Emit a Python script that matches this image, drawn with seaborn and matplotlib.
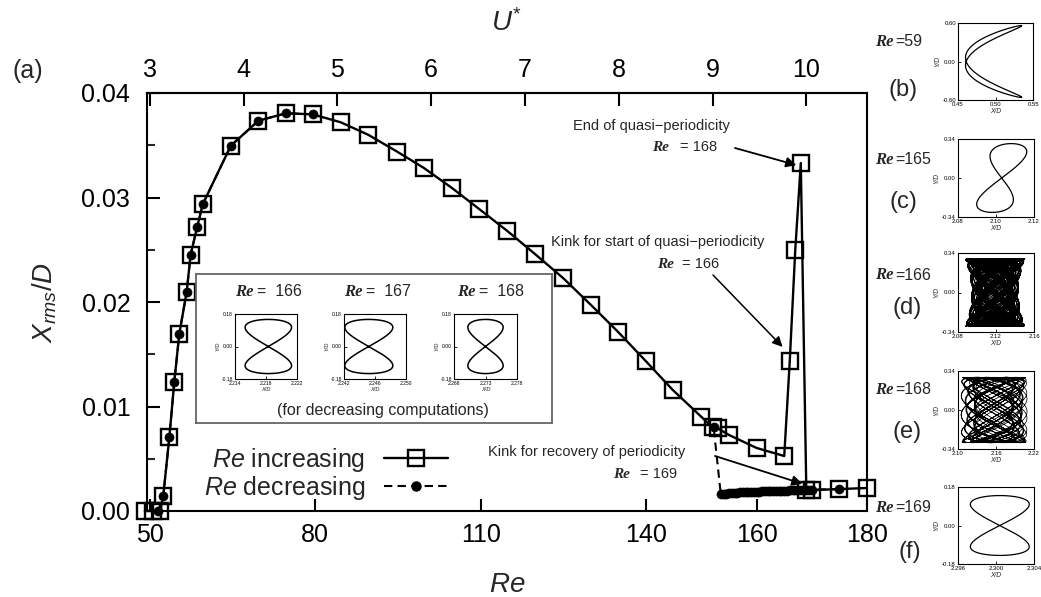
import numpy as np
import pandas as pd
import matplotlib
matplotlib.use("Agg")
import matplotlib.pyplot as plt
from matplotlib.lines import Line2D
from matplotlib.ticker import FormatStrFormatter, MultipleLocator
import seaborn as sns

# ---------------------------------------------------------------- data
# Re increasing sweep (hollow squares, solid line)
re_inc = [49.1, 50.6, 51.9, 52.45, 53.55, 54.45, 55.35, 56.7, 57.4, 58.6, 59.6,
          64.7, 69.7, 74.7, 79.5, 84.6, 89.6, 94.8, 99.7, 104.8, 109.7, 114.8,
          119.8, 124.9, 130.0, 134.9, 139.9, 144.8, 150.0, 152.0, 153.0, 155.0,
          160.0, 165.0, 166.0, 167.0, 168.0, 169.0, 170.0, 175.0, 180.0]
xrms_inc = [0.0, 0.0, 0.0, 0.00147, 0.00705, 0.01237, 0.01694, 0.0210, 0.0245, 0.0272, 0.02935,
            0.03496, 0.03735, 0.03806, 0.03796, 0.0372, 0.0360, 0.0344, 0.03282, 0.0309, 0.0289, 0.0268,
            0.0246, 0.0223, 0.0197, 0.01713, 0.01435, 0.01158, 0.0090, 0.0080, 0.0079, 0.00727,
            0.00603, 0.00526, 0.01435, 0.0250, 0.0333, 0.0020, 0.0020, 0.0021, 0.0022]

# Re decreasing sweep: upper run (175 -> 152) and lower run (80 -> 51.5)
re_dec_high = [175.0, 170.0, 169.5, 169.0, 168.5, 168.0, 167.5, 167.0, 166.5, 166.0, 165.5,
               165.0, 164.5, 164.0, 163.5, 163.0, 162.5, 162.0, 161.5, 161.0, 160.5,
               160.0, 159.5, 159.0, 158.5, 158.0, 157.5, 157.0, 156.5, 156.0, 155.5,
               155.0, 154.5, 154.0, 153.5, 152.2]
xrms_dec_high = [0.0021, 0.00205, 0.00204, 0.00203, 0.00202, 0.00201, 0.0020, 0.00199, 0.00198, 0.00197, 0.00196,
                 0.00195, 0.00194, 0.00193, 0.00192, 0.00191, 0.0019, 0.00189, 0.00188, 0.00187, 0.00186,
                 0.00185, 0.00184, 0.00183, 0.00182, 0.00181, 0.0018, 0.00179, 0.00177, 0.00175, 0.00173,
                 0.00170, 0.00167, 0.00163, 0.0016, 0.0080]
re_dec_low = [79.5, 74.7, 69.7, 64.7, 59.6, 58.6, 57.4, 56.7, 55.35, 54.45, 53.55, 52.45, 51.5]
xrms_dec_low = [0.03796, 0.03806, 0.03735, 0.03496, 0.02935, 0.0272, 0.0245, 0.0210,
                0.01694, 0.01237, 0.00705, 0.00147, 0.0]

re_ticks = [50, 80, 110, 140, 160, 180]
xrms_ticks = [0.0, 0.01, 0.02, 0.03, 0.04]
u_ticks = [3, 4, 5, 6, 7, 8, 9, 10]

# Orbit parameters (centre, amplitudes, slow drift rates) of the phase portraits
orbit_b = dict(xc=0.4975, ax=0.0375, ay=0.56, phase=0.22)
orbit_c = dict(xc=2.103, a2=0.0095, a1=0.005, ay=0.30)
orbit_f = dict(xc=2.3004, a2=0.0031, ay=0.14)
orbit_d = dict(xc=2.119, a2=0.019, waist=0.35, am=0.006, ay=0.29, wp=0.173, wm=0.0371, tmax=900)
orbit_e = dict(xc=2.157, a2=0.040, am=0.012, ay=0.285, wp=0.2113, wm=0.0417, tmax=170)
inset_re = ["166", "167", "168"]
inset_xc = [2.2183, 2.2452, 2.2730]
inset_ax = [0.0030, 0.0031, 0.0028]
inset_ay = [0.15, 0.15, 0.15]
inset_xticks = [[2.214, 2.218, 2.222], [2.242, 2.246, 2.250], [2.268, 2.273, 2.278]]

# ---------------------------------------------------------------- style
sns.set_theme(style="ticks")
plt.rcParams["font.family"] = ["Liberation Sans", "DejaVu Sans"]
plt.rcParams["mathtext.fontset"] = "custom"
plt.rcParams["mathtext.it"] = "Liberation Sans:italic"
plt.rcParams["mathtext.rm"] = "Liberation Sans"
plt.rcParams["axes.linewidth"] = 1.5

W, H = 1041, 597
fig = plt.figure(figsize=(W / 100, H / 100), dpi=100)


def rect(x0, y0, x1, y1):
    return [x0 / W, 1 - y1 / H, (x1 - x0) / W, (y1 - y0) / H]


def ftext(x, y, s, **kw):
    kw.setdefault("ha", "left")
    kw.setdefault("va", "center")
    return fig.text(x / W, 1 - y / H, s, **kw)


def re_tag(x, y, rest, size, gap):
    ftext(x, y, "Re", family="Liberation Serif", style="italic", weight="bold", fontsize=size)
    ftext(x + gap, y, rest, fontsize=size - 0.5)


# ---------------------------------------------------------------- main axes
ax = fig.add_axes(rect(147, 93, 867, 511))

inc = pd.DataFrame({"Re": re_inc, "Xrms": xrms_inc})
dec = pd.DataFrame({
    "Re": re_dec_high + re_dec_low,
    "Xrms": xrms_dec_high + xrms_dec_low,
    "run": ["high"] * len(re_dec_high) + ["low"] * len(re_dec_low),
})

sns.lineplot(data=inc, x="Re", y="Xrms", ax=ax, color="black", lw=1.7,
             marker="s", markersize=11, markerfacecolor="none",
             markeredgecolor="black", markeredgewidth=1.7,
             clip_on=False, zorder=3)
sns.lineplot(data=dec, x="Re", y="Xrms", units="run", estimator=None, sort=False,
             ax=ax, color="black", lw=1.5, ls=(0, (4, 2.5)),
             marker="o", markersize=6.5, markeredgecolor="black",
             markeredgewidth=0.5, clip_on=False, zorder=4)

ax.set_xlim(49.5, 180)
ax.set_ylim(0, 0.04)
ax.set_xticks(re_ticks)
ax.set_yticks(xrms_ticks)
ax.yaxis.set_minor_locator(MultipleLocator(0.005))
ax.yaxis.set_major_formatter(FormatStrFormatter("%.2f"))
ax.tick_params(axis="both", which="major", direction="in", length=9, width=1.5,
               labelsize=18, colors="black")
ax.tick_params(axis="y", which="major", pad=12)
ax.tick_params(axis="x", which="major", pad=9)
ax.tick_params(axis="y", which="minor", direction="in", length=6, width=1.5)
ax.tick_params(top=False, right=False)
ax.set_xlabel("$Re$", fontsize=20, labelpad=18)
ax.set_ylabel("$X_{rms}/D$", fontsize=20, labelpad=16)
for s in ax.spines.values():
    s.set_color("black")
    s.set_linewidth(1.5)


def re_to_u(r):
    return (np.asarray(r) - 50.0) / 17.0 + 3.0


def u_to_re(u):
    return (np.asarray(u) - 3.0) * 17.0 + 50.0


top = ax.secondary_xaxis("top", functions=(re_to_u, u_to_re))
top.set_xticks(u_ticks)
top.tick_params(direction="in", length=9, width=1.5, labelsize=18, pad=8, colors="black")
top.set_xlabel("$U^{*}$", fontsize=20, labelpad=19)

ftext(28, 71, "(a)", fontsize=18, ha="center")

# legend
handles = [
    Line2D([], [], color="black", lw=1.7, marker="s", ms=11, mfc="none", mec="black", mew=1.7),
    Line2D([], [], color="black", lw=1.5, ls=(0, (4, 2.5)), marker="o", ms=6.5, mec="black"),
]
ax.legend(handles, ["$Re$ increasing", "$Re$ decreasing"], markerfirst=False,
          frameon=False, fontsize=18, handlelength=2.55, handletextpad=0.75,
          labelspacing=0.0, loc="center", bbox_to_anchor=(326 / W, 1 - 474 / H),
          bbox_transform=fig.transFigure, borderaxespad=0, borderpad=0)

# annotations
arrow = dict(arrowstyle="-|>", color="black", lw=1.3, mutation_scale=15, shrinkA=0, shrinkB=0)
ftext(651, 126, "End of quasi\u2212periodicity", fontsize=10.5, ha="center")
re_tag(652, 147, "= 168", 11, 28)
ax.annotate("", xy=(167.2, 0.0331), xycoords="data", xytext=(735, H - 148),
            textcoords="figure pixels", arrowprops=arrow)

ftext(658, 242, "Kink for start of quasi\u2212periodicity", fontsize=10.5, ha="center")
re_tag(657, 264, "= 166", 11, 25)
ax.annotate("", xy=(164.7, 0.0157), xycoords="data", xytext=(713, H - 275),
            textcoords="figure pixels", arrowprops=dict(arrow, lw=1.1))

ftext(587, 452, "Kink for recovery of periodicity", fontsize=10.5, ha="center")
re_tag(613, 474, "= 169", 11, 27)
ax.annotate("", xy=(168.3, 0.0026), xycoords="data", xytext=(715, H - 456),
            textcoords="figure pixels", arrowprops=arrow)


# ---------------------------------------------------------------- phase portraits
def phase_panel(box, X, Y, xlim, ylim, xt, yt, xlab, ylab, lw=0.9, fs=4.3):
    a = fig.add_axes(rect(*box))
    sns.lineplot(x=X, y=Y, sort=False, estimator=None, ax=a, color="black", lw=lw)
    a.set_xlim(xlim)
    a.set_ylim(ylim)
    a.set_xticks(xt)
    a.set_xticklabels(xlab)
    a.set_yticks(yt)
    a.set_yticklabels(ylab)
    a.tick_params(direction="in", length=2, width=0.6, labelsize=fs, pad=1.5, colors="black")
    a.set_xlabel("X/D", fontsize=fs + 0.5, style="italic", labelpad=1)
    a.set_ylabel("Y/D", fontsize=fs + 0.5, style="italic", labelpad=1)
    for s in a.spines.values():
        s.set_linewidth(0.8)
        s.set_color("black")
    return a


# inset with the decreasing-sweep orbits
frame = fig.add_axes(rect(196, 274, 552, 423))
frame.set_xticks([])
frame.set_yticks([])
frame.set_facecolor("white")
for s in frame.spines.values():
    s.set_color("#666666")
    s.set_linewidth(1.3)

t = np.linspace(0, 2 * np.pi, 700)
inset_boxes = [(235, 314, 297, 379), (344, 314, 406, 379), (454, 314, 517, 379)]
inset_title_x = [235, 344, 457]
for i in range(3):
    X = inset_xc[i] + inset_ax[i] * np.sin(2 * t)
    Y = inset_ay[i] * np.sin(t)
    xt = inset_xticks[i]
    phase_panel(inset_boxes[i], X, Y, (xt[0], xt[-1]), (-0.18, 0.18), xt, [-0.18, 0.0, 0.18],
                ["%.3f" % v for v in xt], ["-0.18", "0.00", "0.18"], lw=1.1, fs=3.6)
    re_tag(inset_title_x[i], 292, "=  " + inset_re[i], 12, 22)
ftext(383, 411, "(for decreasing computations)", fontsize=11.5, ha="center")

# (b) Re = 59
Xb = orbit_b["xc"] - orbit_b["ax"] * np.cos(2 * t + orbit_b["phase"])
Yb = orbit_b["ay"] * np.sin(t)
phase_panel((958, 23, 1033, 100), Xb, Yb, (0.45, 0.55), (-0.6, 0.6),
            [0.45, 0.50, 0.55], [-0.6, 0.0, 0.6], ["0.45", "0.50", "0.55"],
            ["-0.60", "0.00", "0.60"])
re_tag(875, 42, "=59", 12, 20)
ftext(903, 90, "(b)", fontsize=17, ha="center")

# (c) Re = 165
Xc = orbit_c["xc"] + orbit_c["a2"] * np.sin(2 * t) + orbit_c["a1"] * np.sin(t)
Yc = orbit_c["ay"] * np.sin(t)
phase_panel((958, 139, 1034, 217), Xc, Yc, (2.08, 2.12), (-0.34, 0.34),
            [2.08, 2.10, 2.12], [-0.34, 0.0, 0.34], ["2.08", "2.10", "2.12"],
            ["-0.34", "0.00", "0.34"])
re_tag(875, 160, "=165", 12, 20)
ftext(903, 202, "(c)", fontsize=17, ha="center")

# (d) Re = 166, quasi-periodic: figure-eight whose phase drifts slowly
td = np.linspace(0, orbit_d["tmax"], 70000)
amp_d = orbit_d["a2"] * (1 + orbit_d["waist"] * np.sin(td) ** 2)
Xd = (orbit_d["xc"] + amp_d * np.sin(2 * td + orbit_d["wp"] * td)
      + orbit_d["am"] * np.sin(orbit_d["wm"] * td))
Yd = orbit_d["ay"] * np.sin(td)
phase_panel((958, 253, 1034, 332), Xd, Yd, (2.08, 2.16), (-0.34, 0.34),
            [2.08, 2.12, 2.16], [-0.34, 0.0, 0.34], ["2.08", "2.12", "2.16"],
            ["-0.34", "0.00", "0.34"], lw=0.25)
re_tag(875, 275, "=166", 12, 20)
ftext(907, 308, "(d)", fontsize=17, ha="center")

# (e) Re = 168, quasi-periodic torus
te = np.linspace(0, orbit_e["tmax"], 20000)
Xe = (orbit_e["xc"] + orbit_e["a2"] * np.sin(2 * te + orbit_e["wp"] * te)
      + orbit_e["am"] * np.sin(orbit_e["wm"] * te))
Ye = orbit_e["ay"] * np.sin(te)
phase_panel((958, 371, 1034, 449), Xe, Ye, (2.10, 2.22), (-0.34, 0.34),
            [2.10, 2.16, 2.22], [-0.34, 0.0, 0.34], ["2.10", "2.16", "2.22"],
            ["-0.34", "0.00", "0.34"], lw=0.55)
re_tag(875, 390, "=168", 12, 20)
ftext(907, 432, "(e)", fontsize=17, ha="center")

# (f) Re = 169
Xf = orbit_f["xc"] + orbit_f["a2"] * np.sin(2 * t)
Yf = orbit_f["ay"] * np.sin(t)
phase_panel((958, 487, 1034, 564), Xf, Yf, (2.296, 2.304), (-0.18, 0.18),
            [2.296, 2.300, 2.304], [-0.18, 0.0, 0.18], ["2.296", "2.300", "2.304"],
            ["-0.18", "0.00", "0.18"])
re_tag(875, 508, "=169", 12, 20)
ftext(910, 552, "(f)", fontsize=17, ha="center")

fig.savefig("out.png", dpi=100)
